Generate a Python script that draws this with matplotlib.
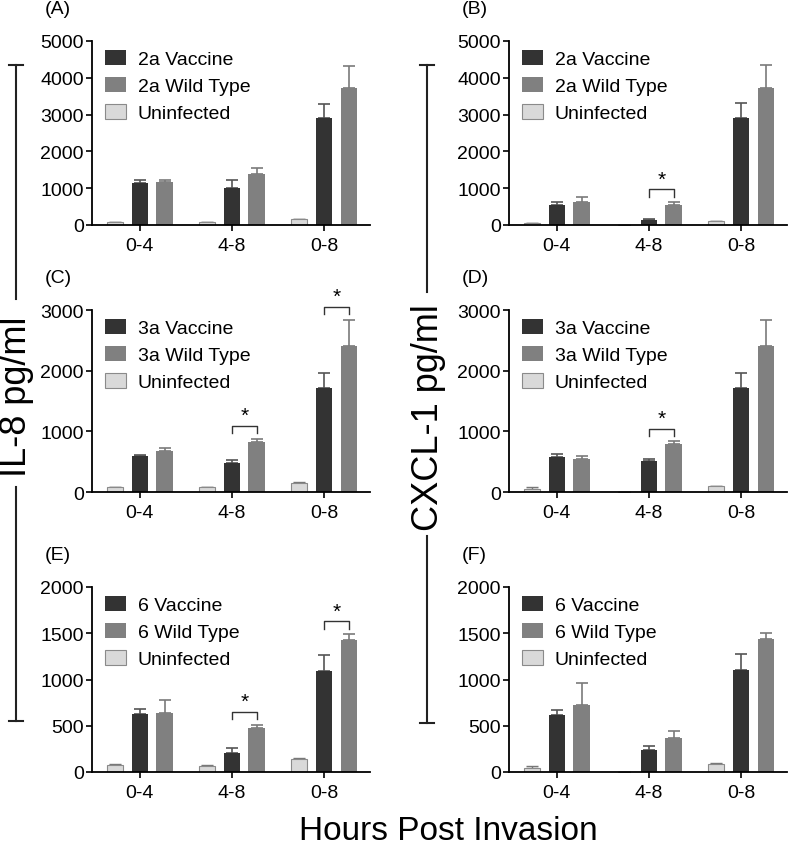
import numpy as np
import matplotlib
matplotlib.use("Agg")
import matplotlib.pyplot as plt
from matplotlib.lines import Line2D

plt.rcParams['font.family'] = ['Liberation Sans', 'DejaVu Sans']

# -----------------------------
# Data
# -----------------------------
groups = ["0-4", "4-8", "0-8"]
strains = ["2a", "2a", "3a", "3a", "6", "6"]
panel_tags = ["(A)", "(B)", "(C)", "(D)", "(E)", "(F)"]
y_max = [5000, 5000, 3000, 3000, 2000, 2000]
y_step = [1000, 1000, 1000, 1000, 500, 500]

# IL-8 (left column) and CXCL-1 (right column)
a_uninf = [80, 70, 150];    a_uninf_err = [10, 10, 20]
a_vac = [1140, 1015, 2910]; a_vac_err = [90, 200, 390]
a_wt = [1170, 1385, 3715];  a_wt_err = [60, 165, 615]

b_uninf = [50, 0, 110];     b_uninf_err = [10, 0, 10]
b_vac = [550, 125, 2915];   b_vac_err = [75, 25, 410]
b_wt = [625, 535, 3730];    b_wt_err = [145, 80, 620]

c_uninf = [77, 77, 148];    c_uninf_err = [8, 8, 15]
c_vac = [587, 477, 1711];   c_vac_err = [28, 50, 253]
c_wt = [670, 817, 2403];    c_wt_err = [50, 61, 438]

d_uninf = [55, 0, 99];      d_uninf_err = [22, 0, 6]
d_vac = [576, 505, 1711];   d_vac_err = [55, 44, 253]
d_wt = [538, 784, 2408];    d_wt_err = [54, 50, 433]

e_uninf = [72, 65, 145];    e_uninf_err = [11, 8, 8]
e_vac = [625, 210, 1095];   e_vac_err = [55, 54, 170]
e_wt = [636, 477, 1424];    e_wt_err = [144, 36, 65]

f_uninf = [40, 0, 91];      f_uninf_err = [26, 0, 5]
f_vac = [617, 241, 1102];   f_vac_err = [58, 36, 175]
f_wt = [719, 372, 1434];    f_wt_err = [241, 70, 66]

# significant vaccine vs wild type comparisons (group index)
a_sig = []
b_sig = [1]
c_sig = [1, 2]
d_sig = [1]
e_sig = [1, 2]
f_sig = []

panels = [
    (a_uninf, a_uninf_err, a_vac, a_vac_err, a_wt, a_wt_err, a_sig),
    (b_uninf, b_uninf_err, b_vac, b_vac_err, b_wt, b_wt_err, b_sig),
    (c_uninf, c_uninf_err, c_vac, c_vac_err, c_wt, c_wt_err, c_sig),
    (d_uninf, d_uninf_err, d_vac, d_vac_err, d_wt, d_wt_err, d_sig),
    (e_uninf, e_uninf_err, e_vac, e_vac_err, e_wt, e_wt_err, e_sig),
    (f_uninf, f_uninf_err, f_vac, f_vac_err, f_wt, f_wt_err, f_sig),
]

# -----------------------------
# Layout (pixels -> figure fraction)
# -----------------------------
W, H = 790, 853
fig = plt.figure(figsize=(W / 100, H / 100), dpi=100)

col_left = [92, 509]
row_top = [42, 311, 588]
row_bottom = [226, 493, 773]
ax_w = 278

c_vac_col = "#333333"
c_wt_col = "#808080"
c_un_col = "#d9d9d9"
bw = 0.18
off = 0.27

for i, (un, un_e, vac, vac_e, wt, wt_e, sig) in enumerate(panels):
    r, c = divmod(i, 2)
    ax_h = row_bottom[r] - row_top[r]
    ax = fig.add_axes([col_left[c] / W, 1 - row_bottom[r] / H,
                       ax_w / W, ax_h / H])
    x = np.arange(len(groups))
    z = np.zeros(len(groups))

    ax.bar(x - off, un, bw, color=c_un_col, edgecolor="#8a8a8a", linewidth=0.8,
           label="Uninfected", zorder=2)
    ax.bar(x, vac, bw, color=c_vac_col, label=strains[i] + " Vaccine", zorder=2)
    ax.bar(x + off, wt, bw, color=c_wt_col, label=strains[i] + " Wild Type", zorder=2)

    ax.errorbar(x - off, un, yerr=[z, un_e], fmt="none", ecolor="#777777",
                elinewidth=1, capsize=4, capthick=1, zorder=1)
    ax.errorbar(x, vac, yerr=[z, vac_e], fmt="none", ecolor="#555555",
                elinewidth=1.2, capsize=4, capthick=1.2, zorder=1)
    ax.errorbar(x + off, wt, yerr=[z, wt_e], fmt="none", ecolor="#7a7a7a",
                elinewidth=1.2, capsize=4, capthick=1.2, zorder=1)

    # significance brackets
    ym = y_max[i]
    for g in sig:
        top = max(vac[g] + vac_e[g], wt[g] + wt_e[g])
        yb = top + 0.07 * ym
        ax.plot([g, g, g + off, g + off], [yb - 0.04 * ym, yb, yb, yb - 0.04 * ym],
                color="#333333", lw=1, clip_on=False)
        ax.text(g + off / 2, yb + 0.005 * ym, "*", ha="center", va="bottom",
                fontsize=15, clip_on=False)

    ax.set_xlim(-0.52, 2.5)
    ax.set_ylim(0, ym)
    ax.set_yticks(np.arange(0, ym + 1, y_step[i]))
    ax.set_xticks(x)
    ax.set_xticklabels(groups)
    ax.tick_params(labelsize=14, length=4, width=1.2, pad=2)
    ax.tick_params(axis="x", pad=5)
    for s in ["top", "right"]:
        ax.spines[s].set_visible(False)
    for s in ["left", "bottom"]:
        ax.spines[s].set_linewidth(1.3)

    h, l = ax.get_legend_handles_labels()
    ax.legend([h[1], h[2], h[0]], [l[1], l[2], l[0]], loc="upper left",
              bbox_to_anchor=(0.045, 1 - 9 / ax_h), frameon=False, fontsize=14,
              handlelength=1.1, handleheight=0.8, handletextpad=0.6,
              labelspacing=0.45, borderpad=0, borderaxespad=0)

    fig.text((col_left[c] - 47) / W, 1 - (row_top[r] - 32) / H, panel_tags[i],
             fontsize=14, ha="left", va="center")

# -----------------------------
# Shared axis labels with bracket lines
# -----------------------------
def vline(xp, y0, y1, cap_top=False, cap_bot=False):
    fig.add_artist(Line2D([xp / W, xp / W], [1 - y0 / H, 1 - y1 / H],
                          color="#222222", lw=1.5))
    for yy, flag in [(y0, cap_top), (y1, cap_bot)]:
        if flag:
            fig.add_artist(Line2D([(xp - 7) / W, (xp + 7) / W], [1 - yy / H, 1 - yy / H],
                                  color="#222222", lw=1.5))

vline(16, 66, 300, cap_top=True)
vline(16, 488, 722, cap_bot=True)
fig.text(17 / W, 1 - 397 / H, "IL-8 pg/ml", rotation=90, fontsize=26,
         ha="center", va="center")

vline(427, 66, 293, cap_top=True)
vline(427, 537, 724, cap_bot=True)
fig.text(429 / W, 1 - 418 / H, "CXCL-1 pg/ml", rotation=90, fontsize=26,
         ha="center", va="center")

fig.text(448 / W, 1 - 832 / H, "Hours Post Invasion", fontsize=24,
         ha="center", va="center")

fig.savefig("out.png", dpi=100)
